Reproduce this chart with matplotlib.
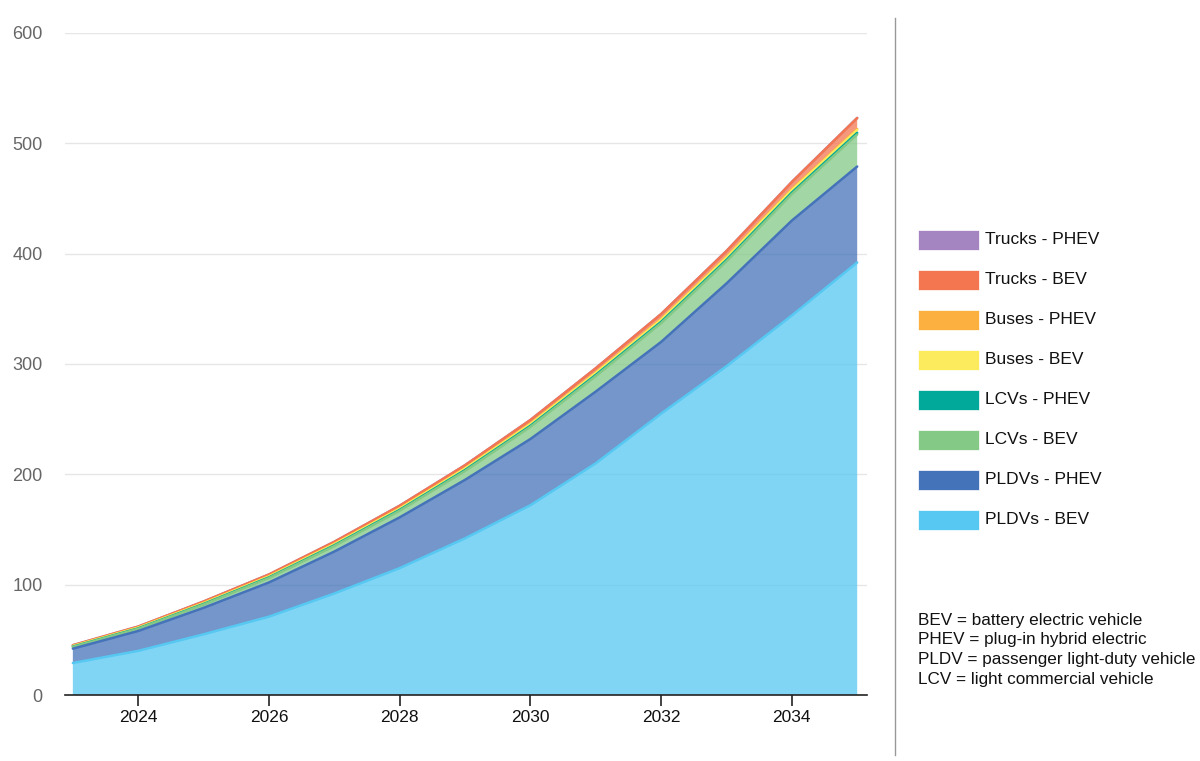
import matplotlib
matplotlib.use("Agg")
import matplotlib.pyplot as plt
from matplotlib.patches import Rectangle
from matplotlib.lines import Line2D
import numpy as np

plt.rcParams['font.family'] = ['Liberation Sans', 'DejaVu Sans']

years = [2023, 2024, 2025, 2026, 2027, 2028, 2029, 2030, 2031, 2032, 2033, 2034, 2035]
pldv_bev = [29, 40, 55, 71, 92, 115, 142, 172, 210, 255, 298, 344, 392]
pldv_phev = [13, 18, 24, 31, 38, 46, 53, 60, 65, 65, 75, 86, 87]
lcv_bev = [1.5, 2, 3, 4, 5, 6, 8, 11, 14, 17, 20, 24, 29]
lcv_phev = [0.3, 0.4, 0.5, 0.6, 0.7, 0.8, 0.9, 1.0, 1.1, 1.2, 1.3, 1.4, 1.5]
buses_bev = [0.5, 0.6, 0.7, 0.8, 1.0, 1.1, 1.3, 1.5, 1.7, 1.9, 2.1, 2.3, 2.6]
buses_phev = [0.2, 0.2, 0.3, 0.3, 0.3, 0.4, 0.4, 0.5, 0.5, 0.6, 0.6, 0.7, 0.8]
trucks_bev = [0.6, 0.8, 1.2, 1.5, 1.8, 2.2, 2.6, 3.2, 3.8, 4.5, 5.3, 6.5, 10]
trucks_phev = [0.05, 0.05, 0.05, 0.05, 0.1, 0.1, 0.1, 0.1, 0.1, 0.1, 0.15, 0.15, 0.2]

series_names = ["PLDVs - BEV", "PLDVs - PHEV", "LCVs - BEV", "LCVs - PHEV",
                "Buses - BEV", "Buses - PHEV", "Trucks - BEV", "Trucks - PHEV"]
series = [pldv_bev, pldv_phev, lcv_bev, lcv_phev, buses_bev, buses_phev, trucks_bev, trucks_phev]
colors = ["#56C8F2", "#4573B9", "#85C987", "#00A99A", "#FCEB5D", "#FBB040", "#F47650", "#A585C1"]

x_ticks = [2024, 2026, 2028, 2030, 2032, 2034]
y_ticks = [0, 100, 200, 300, 400, 500, 600]

W, H = 1200, 761
fig = plt.figure(figsize=(W / 100, H / 100), dpi=100)
ax = fig.add_axes([65 / W, 1 - 695 / H, (867 - 65) / W, (695 - 33) / H])

data = np.array(series, dtype=float)
cum = np.cumsum(data, axis=0)
ax.stackplot(years, data, colors=colors, alpha=0.75, linewidth=0)
for i in reversed(range(len(series))):
    ax.plot(years, cum[i], color=colors[i], lw=1.8, solid_capstyle='round')

ax.set_xlim(2022.88, 2035.15)
ax.set_ylim(0, 600)
ax.set_yticks(y_ticks)
ax.set_xticks(x_ticks)
ax.set_xticklabels([str(t) for t in x_ticks])
ax.grid(axis='y', color='#e6e6e6', lw=1)
ax.set_axisbelow(True)
for s in ['top', 'right', 'left']:
    ax.spines[s].set_visible(False)
ax.spines['bottom'].set_color('#222222')
ax.spines['bottom'].set_linewidth(1.2)
ax.tick_params(axis='y', length=0, labelsize=13, labelcolor='#666666', pad=16)
ax.tick_params(axis='x', length=8, width=1.2, color='#222222', labelsize=12.5, labelcolor='#111111', pad=3)

# separator line
fig.add_artist(Line2D([895 / W, 895 / W], [1 - 18 / H, 1 - 755 / H], color='#999999', lw=1))

# legend
order = list(range(len(series)))[::-1]
for k, i in enumerate(order):
    yc = 240 + 40 * k
    fig.add_artist(Rectangle((918 / W, 1 - (yc + 10) / H), 61 / W, 20 / H,
                             facecolor=colors[i], edgecolor='white', lw=0.5))
    fig.text(985 / W, 1 - yc / H, series_names[i], fontsize=12.5, va='center', ha='left', color='#111111')

notes = ["BEV = battery electric vehicle", "PHEV = plug-in hybrid electric",
         "PLDV = passenger light-duty vehicle", "LCV = light commercial vehicle"]
for k, n in enumerate(notes):
    fig.text(918 / W, 1 - (620 + 19.7 * k) / H, n, fontsize=12.3, va='center', ha='left', color='#111111')

fig.savefig("out.png", dpi=100)
